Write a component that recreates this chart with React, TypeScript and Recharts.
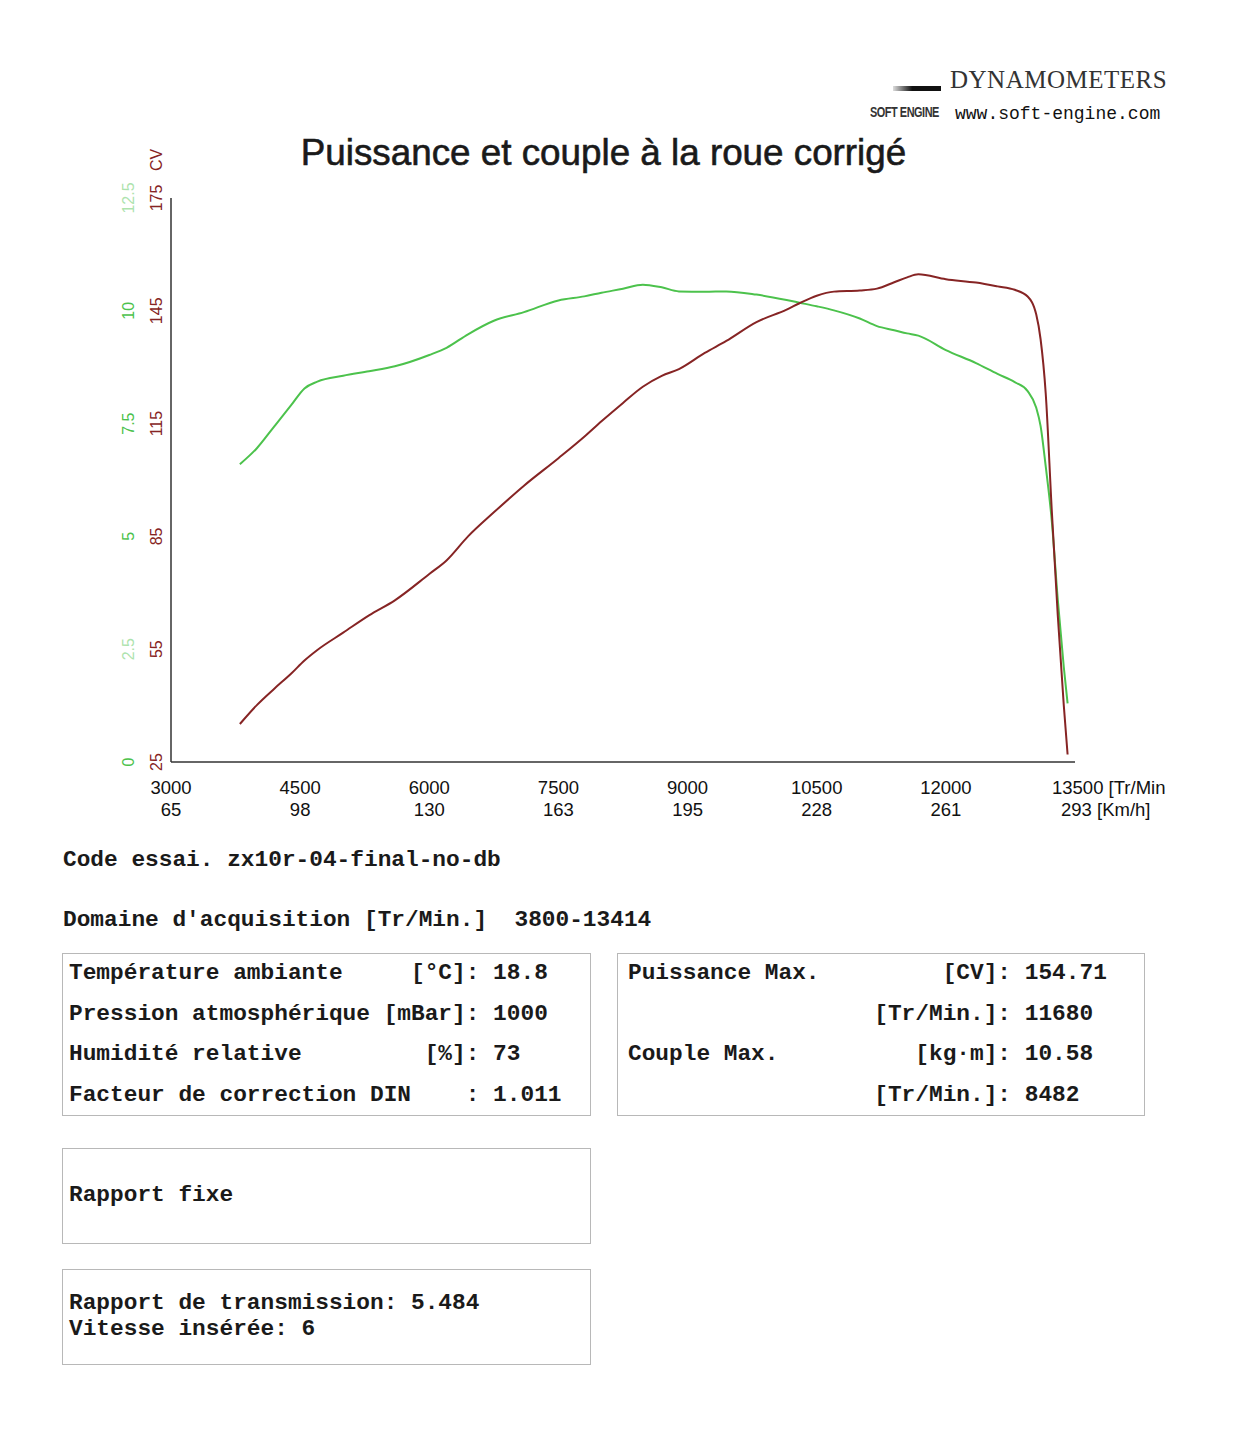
import React from 'react'
import { LineChart, Line, XAxis, YAxis } from 'recharts'

// rpm points sampled along both curves
const rpm = [
  3800, 4000, 4200, 4400, 4550, 4700, 5000, 5300, 5600, 6000, 6200, 6450, 6750,
  7100, 7500, 7800, 8000, 8250, 8480, 8700, 8900, 9200, 9450, 9800, 10150, 10300,
  10500, 10700, 11000, 11200, 11400, 11550, 11680, 12000, 12350, 12600, 12800,
  12950, 13050, 13100, 13160, 13230, 13300, 13370, 13414,
]

// puissance [CV]
const power = [
  35.1, 40.2, 44.5, 48.6, 52, 54.8, 59.4, 64, 68, 75, 78.6, 85, 91.4,
  98.5, 105.8, 111.5, 115.6, 120.5, 124.8, 127.7, 129.5, 133.8, 137, 142, 145.3, 147,
  149, 150.1, 150.4, 150.9, 152.6, 153.9, 154.7, 153.4, 152.5, 151.5, 150.6,
  148.8, 144, 137.5, 123, 92, 64, 40, 27,
]

// couple [kg.m]
const torque = [
  6.6, 6.96, 7.44, 7.92, 8.28, 8.43, 8.56, 8.66, 8.77, 9.02, 9.18, 9.48, 9.78,
  9.97, 10.23, 10.32, 10.4, 10.49, 10.58, 10.52, 10.43, 10.42, 10.43, 10.36, 10.24, 10.18,
  10.1, 10.01, 9.83, 9.66, 9.57, 9.5, 9.45, 9.13, 8.84, 8.6, 8.42,
  8.22, 7.85, 7.45, 6.55, 5.35, 3.6, 2.1, 1.3,
]

const rpmTicks = [3000, 4500, 6000, 7500, 9000, 10500, 12000, 13500]
const speedTicks = [65, 98, 130, 163, 195, 228, 261, 293]
const powerTicks = [25, 55, 85, 115, 145, 175]
const torqueTicks = ['0', '2.5', '5', '7.5', '10', '12.5']

const testInfo = [
  'Code essai. zx10r-04-final-no-db',
  "Domaine d'acquisition [Tr/Min.]  3800-13414",
]
const conditions = [
  'Température ambiante     [°C]: 18.8',
  'Pression atmosphérique [mBar]: 1000',
  'Humidité relative         [%]: 73',
  'Facteur de correction DIN    : 1.011',
]
const maxima = [
  'Puissance Max.         [CV]: 154.71',
  '                  [Tr/Min.]: 11680',
  'Couple Max.          [kg·m]: 10.58',
  '                  [Tr/Min.]: 8482',
]
const gearing = ['Rapport de transmission: 5.484', 'Vitesse insérée: 6']

const RED = '#862424'
const GREEN = '#4cc24c'
const SANS = '"Liberation Sans", Arial, sans-serif'
const MONO = '"Liberation Mono", "Courier New", monospace'

const data = rpm.map((r, i) => ({ rpm: r, power: power[i], torque: torque[i] }))

function YTick(props: any) {
  const { y, payload } = props
  const i = powerTicks.indexOf(payload.value)
  const last = i === powerTicks.length - 1
  return (
    <g fontFamily={SANS} fontSize={16}>
      <text transform={`translate(162, ${y}) rotate(-90)`} textAnchor="middle" fill={RED}>
        {payload.value}
      </text>
      {last && (
        <text transform={`translate(162, ${y - 38}) rotate(-90)`} textAnchor="middle" fill={RED}>
          CV
        </text>
      )}
      <text
        transform={`translate(134, ${y}) rotate(-90)`}
        textAnchor="middle"
        fill={GREEN}
        opacity={i === 1 || last ? 0.45 : 1}
      >
        {torqueTicks[i]}
      </text>
    </g>
  )
}

function XTick(props: any) {
  const { x, payload } = props
  const i = rpmTicks.indexOf(payload.value)
  const last = i === rpmTicks.length - 1
  return (
    <g fontFamily={SANS} fontSize={18.5} fill="#111">
      <text x={last ? x - 23 : x} y={794} textAnchor={last ? 'start' : 'middle'}>
        {last ? `${payload.value} [Tr/Min` : payload.value}
      </text>
      <text x={last ? x - 14 : x} y={816} textAnchor={last ? 'start' : 'middle'}>
        {last ? `${speedTicks[i]} [Km/h]` : speedTicks[i]}
      </text>
    </g>
  )
}

const monoText: React.CSSProperties = {
  fontFamily: MONO,
  fontSize: 22.8,
  fontWeight: 'bold',
  color: '#1a1a1a',
  whiteSpace: 'pre',
  position: 'absolute',
  lineHeight: '26px',
}

const box: React.CSSProperties = {
  position: 'absolute',
  border: '1px solid #b8b8b8',
  boxSizing: 'border-box',
}

export default function App() {
  return (
    <div style={{ position: 'absolute', left: 0, top: 0, width: 1233, height: 1440, background: '#fff' }}>
      {/* header */}
      <div
        style={{
          position: 'absolute', left: 893, top: 86, width: 48, height: 5,
          background: 'linear-gradient(to right, #ddd, #111 40%, #111)',
        }}
      />
      <div
        style={{
          position: 'absolute', left: 950, top: 66, fontFamily: '"Liberation Serif", serif',
          fontSize: 25, color: '#333', letterSpacing: 0.5,
        }}
      >
        DYNAMOMETERS
      </div>
      <div
        style={{
          position: 'absolute', left: 870, top: 104, fontFamily: SANS,
          fontSize: 14, color: '#333', fontWeight: 'bold', letterSpacing: -0.6,
          transform: 'scaleX(0.78)', transformOrigin: 'left top', whiteSpace: 'nowrap',
        }}
      >
        SOFT ENGINE
      </div>
      <div style={{ position: 'absolute', left: 955, top: 104, fontFamily: MONO, fontSize: 18, color: '#111' }}>
        www.soft-engine.com
      </div>
      <div
        style={{
          position: 'absolute', left: 0, width: 1207, top: 132, textAlign: 'center',
          fontFamily: SANS, fontSize: 36.8, color: '#1a1a1a', WebkitTextStroke: '0.6px #1a1a1a',
          lineHeight: '42px',
        }}
      >
        Puissance et couple à la roue corrigé
      </div>

      <div style={{ position: 'absolute', left: 0, top: 0 }}>
        <LineChart
          width={1233}
          height={830}
          data={data}
          margin={{ top: 198, right: 158, left: 111, bottom: 0 }}
        >
          <XAxis
            dataKey="rpm"
            type="number"
            domain={[3000, 13500]}
            ticks={rpmTicks}
            height={68}
            axisLine={{ stroke: '#333', strokeWidth: 1.5 }}
            tickLine={false}
            tick={<XTick />}
            interval={0}
          />
          <YAxis
            yAxisId="power"
            domain={[25, 175]}
            ticks={powerTicks}
            width={60}
            axisLine={{ stroke: '#333', strokeWidth: 1.5 }}
            tickLine={false}
            tick={<YTick />}
            interval={0}
          />
          <YAxis yAxisId="torque" domain={[0, 12.5]} hide />
          <Line
            yAxisId="torque"
            dataKey="torque"
            type="monotone"
            stroke={GREEN}
            strokeWidth={2}
            dot={false}
            isAnimationActive={false}
          />
          <Line
            yAxisId="power"
            dataKey="power"
            type="monotone"
            stroke={RED}
            strokeWidth={2}
            dot={false}
            isAnimationActive={false}
          />
        </LineChart>
      </div>

      {/* test info */}
      {testInfo.map((t, i) => (
        <div key={t} style={{ ...monoText, left: 63, top: 847 + i * 60 }}>
          {t}
        </div>
      ))}

      <div style={{ ...box, left: 62, top: 953, width: 529, height: 163 }} />
      {conditions.map((t, i) => (
        <div key={t} style={{ ...monoText, left: 69, top: 960 + i * 40.7 }}>
          {t}
        </div>
      ))}

      <div style={{ ...box, left: 617, top: 953, width: 528, height: 163 }} />
      {maxima.map((t, i) => (
        <div key={t} style={{ ...monoText, left: 628, top: 960 + i * 40.7 }}>
          {t}
        </div>
      ))}

      <div style={{ ...box, left: 62, top: 1148, width: 529, height: 96 }} />
      <div style={{ ...monoText, left: 69, top: 1182 }}>Rapport fixe</div>

      <div style={{ ...box, left: 62, top: 1269, width: 529, height: 96 }} />
      {gearing.map((t, i) => (
        <div key={t} style={{ ...monoText, left: 69, top: 1290 + i * 26 }}>
          {t}
        </div>
      ))}
    </div>
  )
}
